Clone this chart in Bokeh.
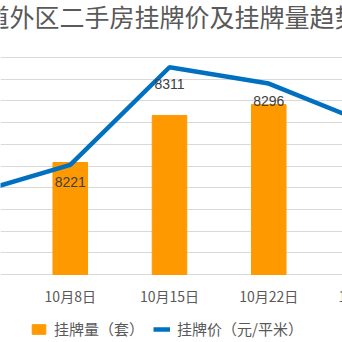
from bokeh.plotting import figure
from bokeh.models import Range1d, Legend, LegendItem, FixedTicker, Label
from bokeh.embed import file_html
from bokeh.resources import INLINE
from bokeh.core.properties import value

# ---- data ----
dates = ["10月1日", "10月8日", "10月15日", "10月22日", "10月29日"]
listings = [float("nan"), 516, 733, 783, float("nan")]   # 挂牌量（套）
prices = [8194, 8221, 8311, 8296, 8259]                   # 挂牌价（元/平米）
title_text = "道外区二手房挂牌价及挂牌量趋势"
bar_name = "挂牌量（套）"
line_name = "挂牌价（元/平米）"
price_grid = [8120, 8140, 8160, 8180, 8200, 8220, 8240, 8260, 8280, 8300, 8320]

idx = list(range(len(dates)))
CJK = "Noto Sans CJK SC"
GREY = "#595959"

# plot area of the original chart: price 8120..8320 spans canvas rows 274..57
ppu = 217 / 200.0
y_lo = 8120 - 68 / ppu
y_hi = 8320 + 57 / ppu
v_lo = -68 / 217.0 * 1000
v_hi = 1000 + 57 / 217.0 * 1000

p = figure(width=342, height=342, output_backend="svg", toolbar_location=None,
           x_range=Range1d(0.2972, 3.743), y_range=Range1d(y_lo, y_hi),
           min_border=0, min_border_left=0, min_border_right=0,
           min_border_top=0, min_border_bottom=0)
p.extra_y_ranges = {"vol": Range1d(v_lo, v_hi)}
p.outline_line_color = None
p.background_fill_color = "white"
p.border_fill_color = "white"
p.xaxis.visible = False
p.yaxis.visible = False
p.xgrid.visible = False
p.ygrid.ticker = FixedTicker(ticks=price_grid)
p.ygrid.grid_line_color = "#D9D9D9"
p.ygrid.grid_line_width = 1

bars = p.vbar(x=idx, top=listings, bottom=0, width=0.348, color="#FF9900", y_range_name="vol")
line = p.line(idx, prices, line_width=4.5, color="#0070C0")

# data labels
p.text(x=idx, y=prices, text=[str(v) for v in prices], y_offset=17,
       text_align="center", text_baseline="middle",
       text_font=value("Liberation Sans"), text_font_size="14px", text_color="#404040")

# category labels under the baseline
p.text(x=idx, y=[price_grid[0]] * len(idx), text=dates, y_offset=21,
       text_align="center", text_baseline="middle",
       text_font=value(CJK), text_font_size="14px", text_color=GREY)

# title
p.add_layout(Label(x=-16, y=8320 + (57 - 15) / ppu, x_units="screen", y_units="data",
                   text=title_text, text_align="left", text_baseline="middle",
                   text_font=CJK, text_font_size="25px", text_color=GREY))

legend = Legend(items=[LegendItem(label=bar_name, renderers=[bars]),
                       LegendItem(label=line_name, renderers=[line])],
                orientation="horizontal", location=(30, 3),
                glyph_width=17, glyph_height=12, label_standoff=7, spacing=9,
                label_height=20, padding=0, margin=0, border_line_color=None,
                background_fill_alpha=0,
                label_text_font=CJK, label_text_font_size="15px", label_text_color=GREY)
p.add_layout(legend, "center")

open("out.html", "w").write(file_html(p, INLINE))
